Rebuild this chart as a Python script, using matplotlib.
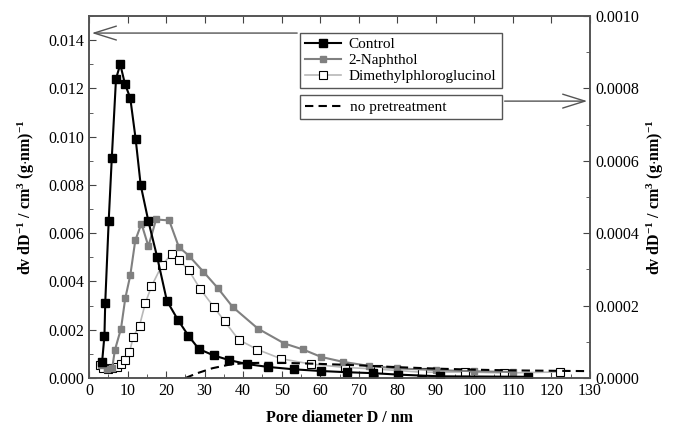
import numpy as np
import matplotlib
matplotlib.use('Agg')
from matplotlib import pyplot as plt
from matplotlib.ticker import MultipleLocator

plt.rcParams['font.family'] = ['Liberation Serif', 'DejaVu Serif']
plt.rcParams['mathtext.fontset'] = 'custom'
plt.rcParams['mathtext.rm'] = 'Liberation Serif:bold'
plt.rcParams['mathtext.default'] = 'rm'

# data
ctrl_x = [3.4, 4.0, 4.2, 5.1, 5.9, 7.0, 8.1, 9.3, 10.7, 12.1, 13.4, 15.4, 17.7, 20.2, 23.1,
          25.8, 28.5, 32.3, 36.2, 40.9, 46.4, 53.2, 60.2, 67.0, 73.8, 80.3, 91.1, 113.9]
ctrl_y = [0.00068, 0.00176, 0.0031, 0.0065, 0.0091, 0.0124, 0.0130, 0.0122, 0.0116, 0.0099,
          0.0080, 0.0065, 0.0050, 0.0032, 0.0024, 0.00175, 0.0012, 0.00094, 0.00075, 0.00058,
          0.00046, 0.00036, 0.00029, 0.00024, 0.00020, 0.00014, 0.00007, 0.00005]

naph_x = [3.0, 4.6, 6.0, 6.7, 8.3, 9.4, 10.7, 12.0, 13.6, 15.4, 17.4, 20.8, 23.3, 25.9,
          29.7, 33.4, 37.3, 43.8, 50.7, 55.4, 60.3, 65.9, 72.7, 80.0, 90.0, 100.0, 110.0]
naph_y = [0.00055, 0.00038, 0.0004, 0.00115, 0.00205, 0.0033, 0.00425, 0.0057, 0.0064,
          0.00546, 0.00657, 0.00653, 0.00543, 0.00507, 0.0044, 0.00373, 0.00294, 0.00205,
          0.00143, 0.00119, 0.00087, 0.00067, 0.0005, 0.00040, 0.00033, 0.00028, 0.00025]

dmp_x = [2.9, 3.6, 4.8, 6.0, 7.3, 8.4, 9.4, 10.5, 11.5, 13.1, 14.6, 16.2, 18.9, 21.5, 23.4,
         25.9, 28.8, 32.3, 35.2, 38.8, 43.7, 49.8, 57.5, 66.3, 74.9, 86.3, 97.6, 107.8, 122.1]
dmp_y = [0.00054, 0.0004, 0.00037, 0.0004, 0.00047, 0.00058, 0.00076, 0.00107, 0.00172,
         0.00217, 0.0031, 0.0038, 0.00467, 0.00515, 0.00488, 0.00446, 0.0037, 0.00296,
         0.00235, 0.00159, 0.00118, 0.0008, 0.00058, 0.00044, 0.00037, 0.00024, 0.00025,
         0.00021, 0.00025]

# no pretreatment, right axis
nopre_x = [25, 28, 32, 36, 40, 45, 50, 60, 70, 80, 90, 100, 110, 120, 130]
nopre_y = [0.0, 0.000013, 0.000027, 0.000036, 0.000041, 0.000042, 0.000042, 0.000039,
           0.000035, 0.000030, 0.000026, 0.000023, 0.000021, 0.000020, 0.000019]

fig = plt.figure(figsize=(6.75, 4.34), dpi=100)
ax = fig.add_axes([0.1319, 0.129, 0.7422, 0.834])
ax2 = ax.twinx()

l1, = ax.plot(ctrl_x, ctrl_y, '-s', color='black', lw=1.5, ms=5.5, zorder=5, label='Control')
l2, = ax.plot(naph_x, naph_y, '-s', color='#808080', mec='#808080', lw=1.5, ms=5, zorder=4, label='2-Naphthol')
l3, = ax.plot(dmp_x, dmp_y, '-s', color='#b8b8b8', mfc='white', mec='black', mew=0.8, lw=1.2, ms=5.5, zorder=3,
              label='Dimethylphloroglucinol')
l4, = ax2.plot(nopre_x, nopre_y, '--', color='black', lw=1.5, dashes=(4, 2.5), label='no pretreatment')

ax.set_xlim(0, 130)
ax.set_ylim(0, 0.015)
ax2.set_ylim(0, 0.0010)
ax.xaxis.set_major_locator(MultipleLocator(10))
ax.xaxis.set_minor_locator(MultipleLocator(5))
ax.yaxis.set_major_locator(MultipleLocator(0.002))
ax.yaxis.set_minor_locator(MultipleLocator(0.001))
ax2.yaxis.set_major_locator(MultipleLocator(0.0002))
ax2.yaxis.set_minor_locator(MultipleLocator(0.0001))
ax.yaxis.set_major_formatter(matplotlib.ticker.FormatStrFormatter('%.3f'))
ax2.yaxis.set_major_formatter(matplotlib.ticker.FormatStrFormatter('%.4f'))

ax.tick_params(axis='x', which='both', direction='in', top=True, labelsize=11.5, color='#444444')
ax.tick_params(axis='x', which='minor', top=False, length=3)
ax.tick_params(axis='x', which='major', length=5)
ax.tick_params(axis='y', which='both', direction='in', labelsize=11.5, color='#444444')
ax.tick_params(axis='y', which='major', length=5)
ax.tick_params(axis='y', which='minor', length=3)
ax2.tick_params(axis='y', which='both', direction='in', labelsize=11.5, color='#444444')
ax2.tick_params(axis='y', which='major', length=5)
ax2.tick_params(axis='y', which='minor', length=3)
for a in (ax, ax2):
    for s in a.spines.values():
        s.set_color('#555555')
        s.set_linewidth(1.2)

ylab = r'dv dD$^{-1}$ / cm$^{3}$ (g$\cdot$nm)$^{-1}$'
ax.set_xlabel('Pore diameter D / nm', fontsize=11.5, fontweight='bold', labelpad=8)
ax.set_ylabel(ylab, fontsize=11.5, fontweight='bold', labelpad=8)
ax2.set_ylabel(ylab, fontsize=11.5, fontweight='bold', labelpad=4)

leg1 = ax2.legend(handles=[l1, l2, l3], loc='upper left', bbox_to_anchor=(0.421, 0.953, 0.403, 0.0),
                  mode='expand', borderaxespad=0, fancybox=False, edgecolor='#555555', framealpha=1,
                  fontsize=11, handlelength=2.4, labelspacing=0.15, borderpad=0.3, handletextpad=0.5)
leg1.get_frame().set_linewidth(1.0)
ax2.add_artist(leg1)
leg2 = ax2.legend(handles=[l4], loc='upper left', bbox_to_anchor=(0.421, 0.782, 0.403, 0.0),
                  mode='expand', borderaxespad=0, fancybox=False, edgecolor='#555555', framealpha=1,
                  fontsize=11, handlelength=2.4, borderpad=0.35, handletextpad=0.5)
leg2.get_frame().set_linewidth(1.0)

arrow = dict(arrowstyle='->,head_length=1.6,head_width=0.5', color='#555555', lw=1.0)
ax2.annotate('', xy=(0.0, 0.953), xytext=(0.421, 0.953), xycoords='axes fraction',
             textcoords='axes fraction', arrowprops=arrow)
ax2.annotate('', xy=(1.0, 0.765), xytext=(0.824, 0.765), xycoords='axes fraction',
             textcoords='axes fraction', arrowprops=arrow)

fig.savefig('out.png', dpi=100)
